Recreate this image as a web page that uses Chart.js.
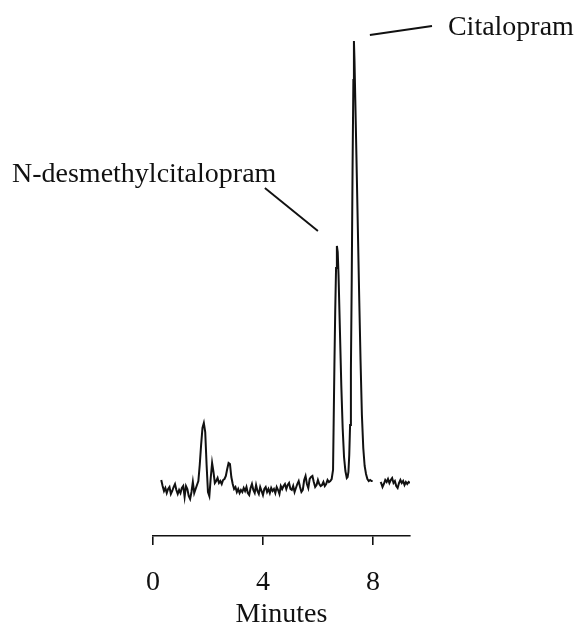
<!DOCTYPE html>
<html><head><meta charset="utf-8">
<script src="https://cdn.jsdelivr.net/npm/chart.js@4"></script>
<style>html,body{margin:0;padding:0;background:#fff}</style>
</head><body>
<canvas id="c" width="582" height="626"></canvas>
<script>
// Retention time (minutes)
const times = [0.30,0.35,0.40,0.45,0.50,0.55,0.60,0.65,0.70,0.75,0.80,0.85,0.90,0.95,1.00,1.05,1.10,1.15,1.20,1.25,1.30,1.35,1.40,1.45,1.50,1.55,1.60,1.65,1.70,1.75,1.80,1.85,1.90,1.95,2.00,2.05,2.10,2.15,2.20,2.25,2.30,2.35,2.40,2.45,2.50,2.55,2.60,2.65,2.70,2.75,2.80,2.85,2.90,2.95,3.00,3.05,3.10,3.15,3.20,3.25,3.30,3.35,3.40,3.45,3.50,3.55,3.60,3.65,3.70,3.75,3.80,3.85,3.90,3.95,4.00,4.05,4.10,4.15,4.20,4.25,4.30,4.35,4.40,4.45,4.50,4.55,4.60,4.65,4.70,4.75,4.80,4.85,4.90,4.95,5.00,5.05,5.10,5.15,5.20,5.25,5.30,5.35,5.40,5.45,5.50,5.55,5.60,5.65,5.70,5.75,5.80,5.85,5.90,5.95,6.00,6.05,6.10,6.15,6.20,6.25,6.30,6.35,6.40,6.45,6.50,6.55,6.60,6.63,6.66,6.69,6.72,6.75,6.80,6.85,6.90,6.95,7.00,7.05,7.08,7.11,7.14,7.17,7.20,7.23,7.26,7.29,7.31,7.33,7.36,7.40,7.45,7.50,7.55,7.60,7.65,7.70,7.75,7.80,7.85,7.90,7.95,7.99,8.10,8.28,8.30,8.35,8.40,8.45,8.50,8.55,8.60,8.65,8.70,8.75,8.80,8.85,8.90,8.95,9.00,9.05,9.10,9.15,9.20,9.25,9.30,9.35];
// Detector response (arbitrary units)
const signal = [10,4,-1,2,-3,1,3,-4,-1,3,6,0,-4,0,-3,2,4,-7,4,1,-6,-9,-2,8,-3,1,5,9,25,45,62,67,58,25,-2,-6,12,27,18,7,9,12,7,9,6,10,11,14,21,27,26,13,6,1,3,-2,1,-3,0,-2,2,-1,3,-3,-5,2,6,0,-3,5,-1,-4,3,-1,-5,1,3,-2,1,-3,2,-1,1,-3,3,0,-4,4,1,4,6,1,5,7,1,0,4,-2,2,6,9,3,-2,0,10,14,6,2,11,13,14,8,3,5,10,6,4,5,8,4,6,10,8,9,11,20,125,180,222,244,238,215,160,105,62,33,19,12,13,18,35,65,120,210,320,410,449,430,390,335,265,195,130,75,42,24,16,11,9,10,9,9,null,8,7,3,6,10,8,11,7,10,12,7,9,4,2,7,10,7,9,5,8,6,8,7];
const xTickValues = [0, 4, 8];
const xTitle = "Minutes";
const peakNames = ["N-desmethylcitalopram", "Citalopram"];
// annotation anchors in data units: [textX, textY, lineX1, lineY1, lineX2, lineY2]
const peakNotes = [
  [-5.13, 308, 4.07, 302, 6.00, 259],
  [10.73, 455, 7.89, 455, 10.15, 464]
];

const FONT = "'Liberation Serif', 'Times New Roman', serif";

const notesPlugin = {
  id: 'notes',
  afterDraw(chart) {
    const ctx = chart.ctx, xs = chart.scales.x, ys = chart.scales.y;
    ctx.save();
    ctx.strokeStyle = '#111';
    ctx.lineWidth = 1.9;
    ctx.fillStyle = '#111';
    ctx.font = "28px " + FONT;
    ctx.textBaseline = 'alphabetic';
    ctx.textAlign = 'left';
    peakNotes.forEach((n, i) => {
      ctx.fillText(peakNames[i], xs.getPixelForValue(n[0]), ys.getPixelForValue(n[1]));
      ctx.beginPath();
      ctx.moveTo(xs.getPixelForValue(n[2]), ys.getPixelForValue(n[3]));
      ctx.lineTo(xs.getPixelForValue(n[4]), ys.getPixelForValue(n[5]));
      ctx.stroke();
    });
    ctx.restore();
  }
};

new Chart(document.getElementById('c'), {
  type: 'line',
  data: {
    datasets: [{
      data: times.map((t, i) => ({ x: t, y: signal[i] })),
      borderColor: '#111',
      borderWidth: 2,
      pointRadius: 0,
      tension: 0,
      spanGaps: false,
      fill: false
    }]
  },
  options: {
    responsive: false,
    animation: false,
    devicePixelRatio: 1,
    layout: { padding: { left: 153, right: 172, top: 20, bottom: 0 } },
    plugins: { legend: { display: false }, tooltip: { enabled: false } },
    scales: {
      x: {
        type: 'linear',
        min: 0,
        max: 9.35,
        afterBuildTicks: s => { s.ticks = xTickValues.map(v => ({ value: v })); },
        afterFit: s => { s.height = 90; },
        border: { display: true, color: '#111', width: 1.6 },
        grid: { display: true, drawOnChartArea: false, drawTicks: true, tickLength: 9, color: '#111', lineWidth: 1.6 },
        ticks: { color: '#111', font: { family: FONT, size: 28 }, padding: 21, maxRotation: 0, autoSkip: false },
        title: { display: true, text: xTitle, color: '#111', font: { family: FONT, size: 28 }, padding: { top: 0, bottom: -5 } }
      },
      y: {
        display: false,
        min: -46,
        max: 470
      }
    }
  },
  plugins: [notesPlugin]
});
</script>
</body></html>
